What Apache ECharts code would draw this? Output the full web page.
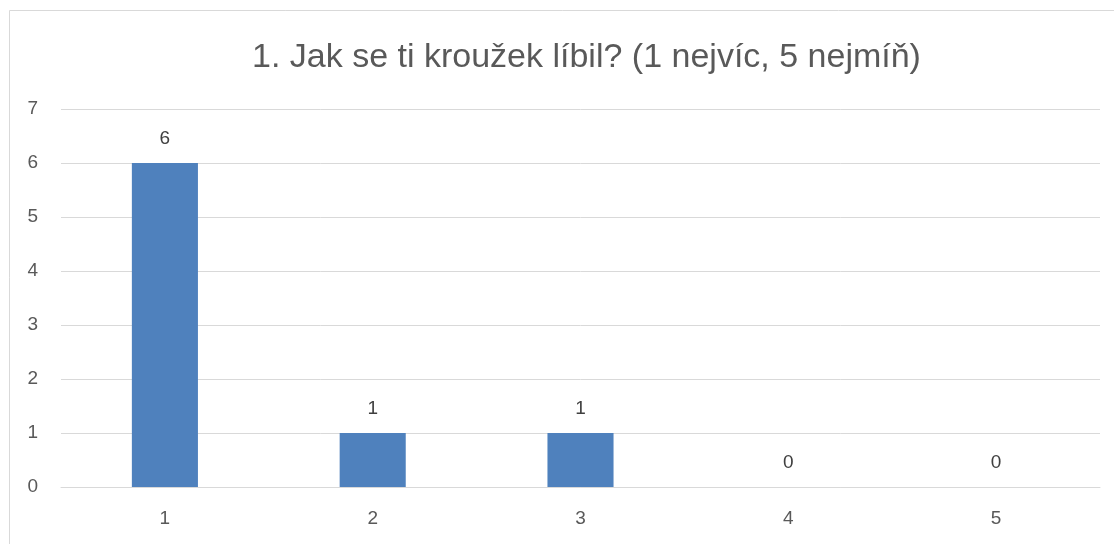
<!DOCTYPE html>
<html>
<head>
<meta charset="utf-8">
<script src="https://cdn.jsdelivr.net/npm/echarts@6/dist/echarts.min.js"></script>
<style>
  html, body { margin: 0; padding: 0; background: #fff; }
  #chart { width: 1114px; height: 544px; }
</style>
</head>
<body>
<div id="chart"></div>
<script>
const titleText = '1. Jak se ti kroužek líbil? (1 nejvíc, 5 nejmíň)';
const categories = ['1', '2', '3', '4', '5'];
const counts = [6, 1, 1, 0, 0];
const yTicks = { min: 0, max: 7, interval: 1 };

const font = 'Liberation Sans, Arial, sans-serif';
const chart = echarts.init(document.getElementById('chart'));

chart.setOption({
  animation: false,
  backgroundColor: '#fff',
  title: {
    text: titleText,
    left: 247,
    top: 36,
    textStyle: { color: '#595959', fontFamily: font, fontWeight: 'normal', fontSize: 34 }
  },
  // thin outer frame of the chart area
  graphic: [{
    type: 'rect',
    shape: { x: 9.5, y: 10.5, width: 1200, height: 600 },
    style: { fill: 'none', stroke: '#d9d9d9', lineWidth: 1 },
    silent: true
  }],
  grid: { left: 61, right: 14, top: 109, bottom: 57 },
  xAxis: {
    type: 'category',
    data: categories,
    axisLine: { lineStyle: { color: '#d9d9d9', width: 1 } },
    axisTick: { show: false },
    axisLabel: { color: '#595959', fontFamily: font, fontSize: 19, margin: 22 }
  },
  yAxis: {
    type: 'value',
    min: yTicks.min,
    max: yTicks.max,
    interval: yTicks.interval,
    axisLine: { show: false },
    axisTick: { show: false },
    splitLine: { lineStyle: { color: '#d9d9d9', width: 1 } },
    axisLabel: { color: '#595959', fontFamily: font, fontSize: 19, margin: 23 }
  },
  series: [{
    type: 'bar',
    data: counts,
    barWidth: '31.8%',
    itemStyle: { color: '#4f81bd' },
    label: {
      show: true,
      position: 'top',
      distance: 15,
      color: '#404040',
      fontFamily: font,
      fontSize: 19
    }
  }]
});
</script>
</body>
</html>
